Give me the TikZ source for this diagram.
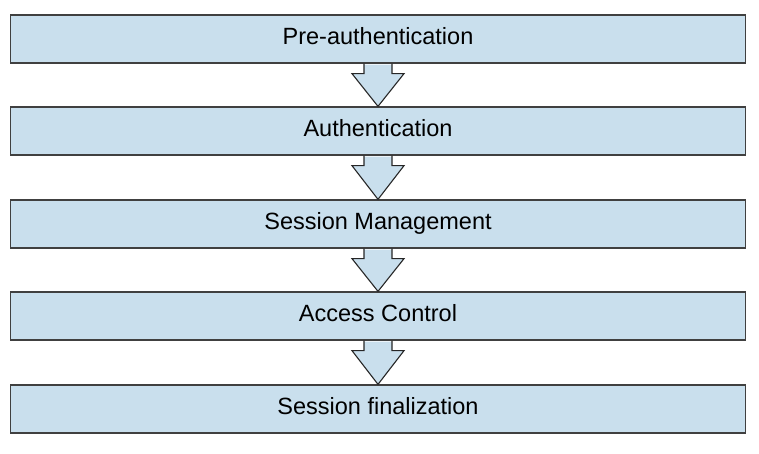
\documentclass[tikz,border=0pt]{standalone}
\usepackage{fontspec}
\setmainfont{Liberation Sans}
\usetikzlibrary{calc}
\definecolor{boxfill}{HTML}{C9DFED}
\definecolor{boxline}{HTML}{404040}
\tikzset{
  stage/.style={draw=boxline, line width=1.3pt, fill=boxfill, minimum width=735pt, minimum height=48pt, inner sep=0pt, text height=16.5pt, text depth=6pt, font=\fontsize{23.5}{28}\selectfont},
  arrowfill/.style={fill=boxfill},
  arrowline/.style={draw=black!85, line width=1.1pt, line join=miter}
}
\newcommand{\blockarrow}[2]{%
  \fill[arrowfill] ($(#1.south)+(-14,1)$) -- ($(#1.south)+(-14,10)$) -- ($(#1.south)+(-26,10)$) -- (#2.north) -- ($(#1.south)+(26,10)$) -- ($(#1.south)+(14,10)$) -- ($(#1.south)+(14,1)$) -- cycle;
  \draw[arrowline] ($(#1.south)+(-14,0)$) -- ($(#1.south)+(-14,10)$) -- ($(#1.south)+(-26,10)$) -- (#2.north) -- ($(#1.south)+(26,10)$) -- ($(#1.south)+(14,10)$) -- ($(#1.south)+(14,0)$);
}
\begin{document}
\begin{tikzpicture}[x=1pt,y=-1pt]
\useasboundingbox (0,0) rectangle (759,453);
\node[stage] (b1) at (378,39) {Pre-authentication};
\node[stage] (b2) at (378,131) {Authentication};
\node[stage] (b3) at (378,224) {Session Management};
\node[stage] (b4) at (378,316) {Access Control};
\node[stage] (b5) at (378,409) {Session finalization};
\blockarrow{b1}{b2}
\blockarrow{b2}{b3}
\blockarrow{b3}{b4}
\blockarrow{b4}{b5}
\end{tikzpicture}
\end{document}
